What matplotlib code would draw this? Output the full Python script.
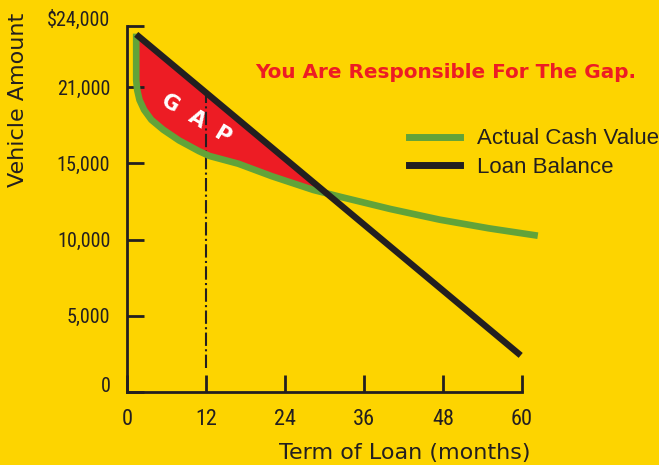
import matplotlib.pyplot as plt
from matplotlib.lines import Line2D
import numpy as np

# values (months, dollars)
acv_months = [1.4, 1.4, 1.55, 1.9, 2.6, 3.7, 5.5, 7.9, 10.9, 12.5, 16.9, 22, 28.3, 32.4, 40, 47.5, 55, 62.4]
acv_values = [23500, 20450, 19800, 19150, 18500, 17850, 17200, 16500, 15800, 15480, 14970, 14150,
              13250, 12800, 12000, 11300, 10730, 10250]
loan_months = [1.4, 59.8]
loan_values = [23450, 2400]
gap_month = 12
x_ticks = [0, 12, 24, 36, 48, 60]
y_ticks = [0, 5000, 10000, 15000, 20000, 24000]
y_labels = ['0', '5,000', '10,000', '15,000', '21,000', '$24,000']

yellow = '#FDD400'
red = '#ED1C24'
green = '#62A339'
dark = '#231F20'

fig = plt.figure(figsize=(6.59, 4.65), dpi=100, facecolor=yellow)
ax = fig.add_axes([127 / 659, 73 / 465, 395 / 659, 366 / 465])
ax.set_facecolor(yellow)

# red gap between the two curves
loan_at_acv = np.interp(acv_months, loan_months, loan_values)
ax.fill_between(acv_months, acv_values, loan_at_acv, where=loan_at_acv >= np.array(acv_values),
                interpolate=True, color=red, lw=0, zorder=1)

ax.vlines(gap_month, 1600, np.interp(gap_month, loan_months, loan_values),
          colors=dark, linestyles='dashdot', lw=1.5, zorder=2)

ax.plot(acv_months, acv_values, color=green, lw=4.8, solid_capstyle='butt',
        solid_joinstyle='round', clip_on=False, zorder=3)
ax.plot(loan_months, loan_values, color=dark, lw=4.6, solid_capstyle='butt', clip_on=False, zorder=4)

ax.text(10.5, 17900, 'G  A  P', color='white', fontsize=15, fontweight='bold',
        rotation=-31, ha='center', va='center', zorder=5)

ax.set_xlim(0, 60)
ax.set_ylim(0, 24000)
ax.set_xticks(x_ticks)
ax.set_yticks(y_ticks)
ax.set_yticklabels(y_labels)
for s in ['top', 'right']:
    ax.spines[s].set_visible(False)
for s in ['left', 'bottom']:
    ax.spines[s].set_linewidth(2)
    ax.spines[s].set_color(dark)
ax.tick_params(direction='in', length=12, width=2, colors=dark, pad=12)
narrow = ['Liberation Sans Narrow', 'Roboto Condensed', 'DejaVu Sans']
for lab in ax.get_yticklabels():
    lab.set_fontfamily(narrow)
    lab.set_fontstretch('condensed')
    lab.set_fontsize(14.5)
for lab in ax.get_xticklabels():
    lab.set_fontfamily(narrow)
    lab.set_fontstretch('condensed')
    lab.set_fontsize(16)
ax.get_yticklabels()[0].set_va('baseline')
ax.get_yticklabels()[-1].set_va('baseline')

ax.set_ylabel('Vehicle Amount', fontsize=16, color=dark)
ax.yaxis.set_label_coords(-0.25, 0.798)
ax.set_xlabel('Term of Loan (months)', fontsize=16, color=dark)
ax.xaxis.set_label_coords(0.7025, -0.139)

fig.text(445.5 / 659, 1 - 72 / 465, 'You Are Responsible For The Gap.', color=red,
         fontsize=14.4, fontweight='bold', ha='center', va='center')

handles = [Line2D([], [], color=green, lw=5), Line2D([], [], color=dark, lw=5)]
ax.legend(handles, ['Actual Cash Value', 'Loan Balance'], loc='upper left',
          bbox_to_anchor=(409 / 659, 1 - 128.5 / 465), bbox_transform=fig.transFigure,
          frameon=False, borderpad=0, borderaxespad=0, handlelength=2.3, handletextpad=0.77,
          labelspacing=0.35, prop={'family': 'Liberation Sans', 'size': 16}, labelcolor=dark)

fig.savefig('out.png', dpi=100, facecolor=yellow)
